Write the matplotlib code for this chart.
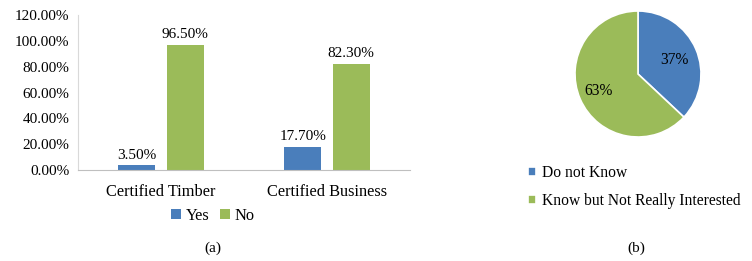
import matplotlib.pyplot as plt
import numpy as np

plt.rcParams['font.family'] = ['Liberation Serif', 'DejaVu Serif']

# data
categories = ['Certified Timber', 'Certified Business']
yes_vals = [3.5, 17.7]
no_vals = [96.5, 82.3]
y_ticks = [0, 20, 40, 60, 80, 100, 120]

pie_labels = ['Do not Know', 'Know but Not Really Interested']
pie_vals = [37, 63]

blue = '#4a7ebb'
green = '#9bbb59'
W, H = 752, 261

fig = plt.figure(figsize=(W / 100, H / 100), dpi=100)

# --- (a) bar chart ---
ax = fig.add_axes([78 / W, (H - 170) / H, 332 / W, 155 / H])
x = np.arange(len(categories))
bw = 0.223
off = 0.145
b1 = ax.bar(x - off, yes_vals, bw, color=blue, label='Yes')
b2 = ax.bar(x + off, no_vals, bw, color=green, label='No')
for bars, vals in [(b1, yes_vals), (b2, no_vals)]:
    for r, v in zip(bars, vals):
        ax.text(r.get_x() + r.get_width() / 2, v + 3, f'{v:.2f}%',
                ha='center', va='bottom', fontsize=11)
ax.set_xlim(-0.5, 1.5)
ax.set_ylim(0, 120)
ax.set_yticks(y_ticks)
ax.set_yticklabels([f'{t:.2f}%' for t in y_ticks], fontsize=11)
ax.set_xticks(x)
ax.set_xticklabels(categories, fontsize=11.8)
ax.tick_params(length=0, pad=6)
ax.tick_params(axis='x', pad=10)
for s in ['top', 'right']:
    ax.spines[s].set_visible(False)
ax.spines['left'].set_color('#d9d9d9')
ax.spines['bottom'].set_color('#bfbfbf')
fig.legend(handles=[b1, b2], loc='center', bbox_to_anchor=(213 / W, 1 - 216 / H),
           ncol=2, frameon=False, fontsize=11.8, handlelength=0.6, handleheight=0.6,
           handletextpad=0.3, columnspacing=0.6)
fig.text(213 / W, 1 - 248 / H, '(a)', ha='center', va='center', fontsize=11)

# --- (b) pie chart ---
pax = fig.add_axes([(638 - 63) / W, (H - 137) / H, 126 / W, 126 / H])
wedges, _ = pax.pie(pie_vals, colors=[blue, green], startangle=90, counterclock=False,
                    radius=1, wedgeprops=dict(edgecolor='white', linewidth=1.2))
pax.set_xlim(-1, 1)
pax.set_ylim(-1, 1)
pax.set_aspect('equal')
pax.text(0.58, 0.22, '37%', ha='center', va='center', fontsize=11.2)
pax.text(-0.62, -0.27, '63%', ha='center', va='center', fontsize=11.2)
fig.legend(handles=wedges, labels=pie_labels, loc='upper left',
           bbox_to_anchor=(514 / W, 1 - 151 / H), frameon=False, fontsize=11.2,
           handlelength=0.5, handleheight=0.5, handletextpad=0.4, labelspacing=0.8)
fig.text(636 / W, 1 - 248 / H, '(b)', ha='center', va='center', fontsize=11)

fig.savefig('out.png', dpi=100)
